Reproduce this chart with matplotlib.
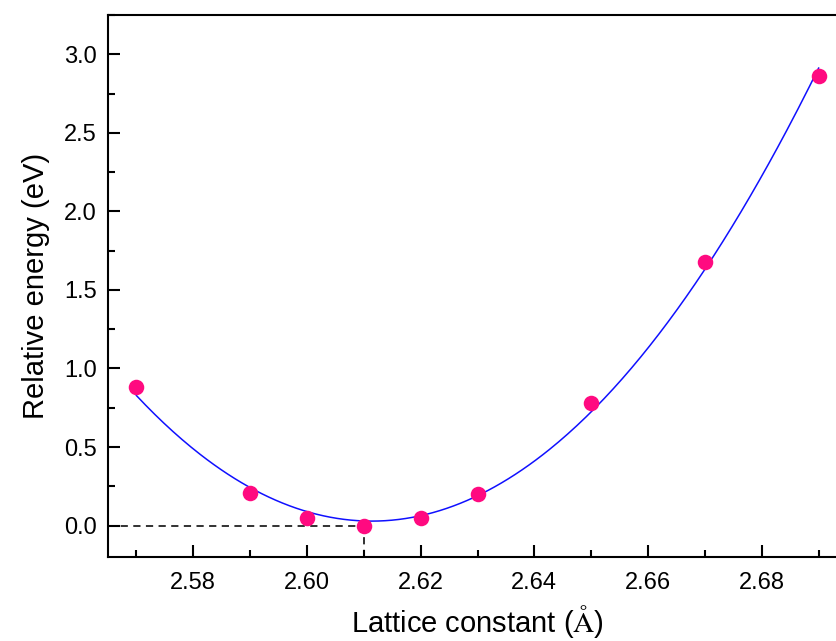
import numpy as np
import matplotlib
matplotlib.use("Agg")
import matplotlib.pyplot as plt
from matplotlib.ticker import MultipleLocator, FormatStrFormatter

plt.rcParams['font.family'] = ['Liberation Sans', 'DejaVu Sans']
plt.rcParams['mathtext.fontset'] = 'stix'

# lattice constant (A) vs relative energy (eV)
lattice = [2.57, 2.59, 2.60, 2.61, 2.62, 2.63, 2.65, 2.67, 2.69]
energy = [0.88, 0.21, 0.05, 0.00, 0.05, 0.20, 0.78, 1.68, 2.86]
a_min = 2.61

# quadratic fit through the points
coef = np.polyfit(lattice, energy, 2)
xf = np.linspace(min(lattice), max(lattice), 300)
yf = np.polyval(coef, xf)

fig = plt.figure(figsize=(8.37, 6.41), dpi=100)
ax = fig.add_axes([0.129, 0.131, 0.883, 0.8456])

ax.plot(xf, yf, color='#1010ff', lw=1.1, zorder=2)
ax.scatter(lattice, energy, s=125, color='#ff0a80', zorder=3, linewidths=0)

# dashed guide lines at the minimum
ax.plot([2.565, a_min], [0, 0], color='#222222', lw=1.3, dashes=(4, 3), zorder=1)
ax.plot([a_min, a_min], [-0.2, 0], color='#222222', lw=1.3, dashes=(4, 3), zorder=1)

ax.set_xlim(2.565, 2.695)
ax.set_ylim(-0.2, 3.25)
ax.xaxis.set_major_locator(MultipleLocator(0.02))
ax.xaxis.set_minor_locator(MultipleLocator(0.01))
ax.yaxis.set_major_locator(MultipleLocator(0.5))
ax.yaxis.set_minor_locator(MultipleLocator(0.25))
ax.xaxis.set_major_formatter(FormatStrFormatter('%.2f'))
ax.yaxis.set_major_formatter(FormatStrFormatter('%.1f'))

ax.tick_params(which='both', direction='in', width=1.5, labelsize=17, pad=8)
ax.tick_params(axis='x', which='both', pad=11)
ax.tick_params(which='major', length=8.5)
ax.tick_params(which='minor', length=5)
for sp in ax.spines.values():
    sp.set_linewidth(1.5)

ax.set_xlabel(r"Lattice constant ($\mathrm{\AA}$)", fontsize=21, labelpad=6)
ax.set_ylabel("Relative energy (eV)", fontsize=21, labelpad=10)

fig.savefig("out.png", dpi=100)
